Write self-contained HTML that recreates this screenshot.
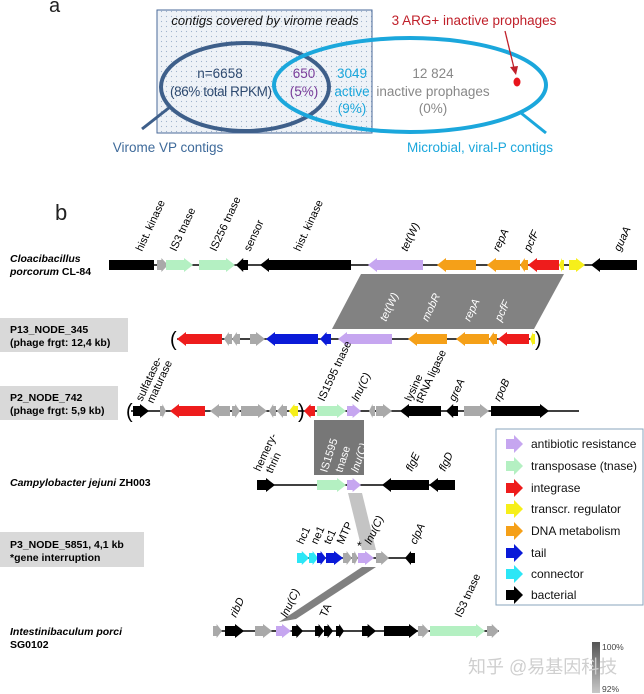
<!DOCTYPE html>
<html><head><meta charset="utf-8"><style>
html,body{margin:0;padding:0;background:#fff;}
svg{display:block;font-family:"Liberation Sans","Noto Sans CJK SC",sans-serif;}
.gl{font-size:11px;fill:#000;}
.gi{font-size:11px;font-style:italic;fill:#000;}
.wl{font-size:11px;fill:#fff;font-style:italic;}
.lb{font-size:10.5px;font-weight:bold;fill:#000;}
.lg{font-size:12px;fill:#111;}
</style></head><body>
<svg id="s" width="644" height="694" viewBox="0 0 644 694" xmlns="http://www.w3.org/2000/svg">
<defs>
<pattern id="dots" width="5" height="5" patternUnits="userSpaceOnUse">
<rect width="5" height="5" fill="#eef2f7"/><circle cx="1.5" cy="1.5" r="0.6" fill="#9fb4cc"/>
</pattern>
<linearGradient id="sc" x1="0" y1="0" x2="0" y2="1"><stop offset="0" stop-color="#555"/><stop offset="1" stop-color="#c8c8c8"/></linearGradient>
</defs>
<!-- panel a -->
<text x="49" y="12" font-size="20" fill="#222">a</text>
<rect x="157" y="10" width="215" height="123" fill="url(#dots)" stroke="#4a6a9a" stroke-width="1"/>
<text x="265" y="25" font-size="13" font-style="italic" fill="#111" text-anchor="middle">contigs covered by virome reads</text>
<ellipse cx="245" cy="87" rx="84" ry="44" fill="none" stroke="#3e5f8a" stroke-width="4"/>
<ellipse cx="410" cy="85" rx="136" ry="47" fill="none" stroke="#1ba7dc" stroke-width="4"/>
<line x1="170" y1="107" x2="142" y2="129" stroke="#3e5f8a" stroke-width="3"/>
<line x1="521" y1="113" x2="546" y2="133" stroke="#1ba7dc" stroke-width="3"/>
<text x="220" y="78" font-size="13.5" fill="#2e4a70" text-anchor="middle">n=6658</text>
<text x="221" y="96" font-size="13.5" fill="#2e4a70" text-anchor="middle" textLength="102">(86% total RPKM)</text>
<text x="304" y="78" font-size="13.5" fill="#7a3d9a" text-anchor="middle">650</text>
<text x="304" y="96" font-size="13.5" fill="#7a3d9a" text-anchor="middle">(5%)</text>
<text x="352" y="78" font-size="13.5" fill="#1ba7dc" text-anchor="middle">3049</text>
<text x="352" y="96" font-size="13.5" fill="#1ba7dc" text-anchor="middle">active</text>
<text x="352" y="113" font-size="13.5" fill="#1ba7dc" text-anchor="middle">(9%)</text>
<text x="433" y="78" font-size="13.5" fill="#888" text-anchor="middle">12 824</text>
<text x="433" y="96" font-size="13.5" fill="#888" text-anchor="middle">inactive prophages</text>
<text x="433" y="113" font-size="13.5" fill="#888" text-anchor="middle">(0%)</text>
<text x="474" y="25" font-size="13.5" fill="#c0202a" text-anchor="middle">3 ARG+ inactive prophages</text>
<line x1="505" y1="31" x2="514" y2="68" stroke="#c0202a" stroke-width="1.3"/>
<polygon points="510,67 518,66 516,75" fill="#c0202a"/>
<ellipse cx="517" cy="82" rx="3.5" ry="4.5" fill="#e8141c"/>
<text x="168" y="152" font-size="13.5" fill="#3e6a9a" text-anchor="middle">Virome VP contigs</text>
<text x="480" y="152" font-size="13.5" fill="#1ba7dc" text-anchor="middle">Microbial, viral-P contigs</text>

<!-- panel b -->
<text x="55" y="220" font-size="22" fill="#222">b</text>
<rect x="0" y="318" width="128" height="34" fill="#d9d9d9"/>
<rect x="0" y="386" width="118" height="34" fill="#d9d9d9"/>
<rect x="0" y="532" width="144" height="35" fill="#d9d9d9"/>
<text class="lb" x="10" y="333">P13_NODE_345</text>
<text class="lb" x="10" y="346">(phage frgt: 12,4 kb)</text>
<text class="lb" x="10" y="401">P2_NODE_742</text>
<text class="lb" x="10" y="414">(phage frgt: 5,9 kb)</text>
<text class="lb" x="10" y="548">P3_NODE_5851, 4,1 kb</text>
<text class="lb" x="10" y="561">*gene interruption</text>
<text class="lb" x="10" y="262"><tspan font-style="italic">Cloacibacillus</tspan></text>
<text class="lb" x="10" y="275"><tspan font-style="italic">porcorum</tspan> CL-84</text>
<text class="lb" x="10" y="486"><tspan font-style="italic">Campylobacter jejuni</tspan> ZH003</text>
<text class="lb" x="10" y="635"><tspan font-style="italic">Intestinibaculum porci</tspan></text>
<text class="lb" x="10" y="648">SG0102</text>

<polygon points="361,274 564,274 534,329 332,329" fill="#828282"/>
<rect x="314" y="420" width="50" height="55" fill="#777"/>
<polygon points="348,493 362,493 376,550 362,550" fill="#c4c4c4"/>
<polygon points="362,567 376,567 296,619 279,622" fill="#808080"/>

<g stroke="#000" stroke-width="1.6">
<line x1="109" y1="265" x2="637" y2="265"/>
<line x1="177" y1="339" x2="535" y2="339"/>
<line x1="131" y1="411" x2="579" y2="411"/>
<line x1="257" y1="485" x2="455" y2="485"/>
<line x1="297" y1="558" x2="415" y2="558"/>
<line x1="213" y1="631" x2="499" y2="631"/>
</g>
<g id="genes"></g>
<g font-size="20" fill="#000">
<text x="170" y="346">(</text><text x="535" y="346">)</text>
<text x="126" y="418">(</text><text x="298" y="418">)</text>
</g>

<g>
<text class="gl" transform="translate(142,252) rotate(-65)">hist. kinase</text>
<text class="gl" transform="translate(176,252) rotate(-65)">IS3 tnase</text>
<text class="gl" transform="translate(216,252) rotate(-65)">IS256 tnase</text>
<text class="gl" transform="translate(250,252) rotate(-65)">sensor</text>
<text class="gl" transform="translate(300,252) rotate(-65)">hist. kinase</text>
<text class="gi" transform="translate(407,252) rotate(-65)">tet(W)</text>
<text class="gi" transform="translate(499,252) rotate(-65)">repA</text>
<text class="gi" transform="translate(530,252) rotate(-65)">pcfF</text>
<text class="gi" transform="translate(620,252) rotate(-65)">guaA</text>
<text class="wl" transform="translate(386,322) rotate(-65)">tet(W)</text>
<text class="wl" transform="translate(428,322) rotate(-65)">mobR</text>
<text class="wl" transform="translate(470,322) rotate(-65)">repA</text>
<text class="wl" transform="translate(501,322) rotate(-65)">pcfF</text>
<text class="gl" transform="translate(142,402) rotate(-65)">sulfatase-</text>
<text class="gl" transform="translate(153,404) rotate(-65)">maturase</text>
<text class="gl" transform="translate(324,402) rotate(-65)">IS1595 tnase</text>
<text class="gi" transform="translate(358,402) rotate(-65)">lnu(C)</text>
<text class="gl" transform="translate(411,402) rotate(-65)">lysine</text>
<text class="gl" transform="translate(422,404) rotate(-65)">tRNA ligase</text>
<text class="gi" transform="translate(455,402) rotate(-65)">greA</text>
<text class="gi" transform="translate(500,402) rotate(-65)">rpoB</text>
<text class="gl" style="fill:#fff" transform="translate(327,473) rotate(-72)">IS1595</text>
<text class="gl" style="fill:#fff" transform="translate(342,473) rotate(-72)">tnase</text>
<text class="wl" transform="translate(358,473) rotate(-72)">lnu(C)</text>
<text class="gl" transform="translate(260,472) rotate(-65)">hemery-</text>
<text class="gl" transform="translate(272,474) rotate(-65)">thrin</text>
<text class="gi" transform="translate(412,472) rotate(-65)">flgE</text>
<text class="gi" transform="translate(445,472) rotate(-65)">flgD</text>
<text class="gl" transform="translate(303,545) rotate(-65)">hc1</text>
<text class="gl" transform="translate(317,545) rotate(-65)">ne1</text>
<text class="gl" transform="translate(330,545) rotate(-65)">tc1</text>
<text class="gl" transform="translate(343,545) rotate(-65)">MTP</text>
<text class="gi" transform="translate(371,545) rotate(-65)">lnu(C)</text>
<text class="gi" transform="translate(416,545) rotate(-65)">clpA</text>
<text x="357" y="550" font-size="12" fill="#000">*</text>
<text class="gi" transform="translate(236,618) rotate(-65)">ribD</text>
<text class="gi" transform="translate(287,618) rotate(-65)">lnu(C)</text>
<text class="gl" transform="translate(326,618) rotate(-65)">TA</text>
<text class="gl" transform="translate(461,618) rotate(-65)">IS3 tnase</text>
</g>

<rect x="496" y="429" width="147" height="176" fill="#fff" stroke="#8aa4bc" stroke-width="1"/>
<g id="leg"></g>
<text class="lg" x="531" y="448">antibiotic resistance</text>
<text class="lg" x="531" y="470">transposase (tnase)</text>
<text class="lg" x="531" y="492">integrase</text>
<text class="lg" x="531" y="513">transcr. regulator</text>
<text class="lg" x="531" y="535">DNA metabolism</text>
<text class="lg" x="531" y="557">tail</text>
<text class="lg" x="531" y="578">connector</text>
<text class="lg" x="531" y="599">bacterial</text>

<rect x="592" y="642" width="8" height="51" fill="url(#sc)"/>
<text x="602" y="650" font-size="8.5" fill="#444">100%</text>
<text x="602" y="692" font-size="8.5" fill="#444">92%</text>
<text x="468" y="673" font-size="18" fill="#cfcfcf">知乎 @易基因科技</text>
</svg>
<script>
var C={k:"#000",g:"#a9a9a9",gr:"#b4f0c2",p:"#c6a6f0",o:"#f5a018",r:"#ee1c1c",y:"#f6ef1a",b:"#0a1ad8",c:"#2ce6f6"};
function arrow(x1,x2,y,d,col,box){
 var L=x2-x1,hl=box?0:Math.min(9,L*0.6),s=5,h=7,p;
 if(d>0){p=[[x1,y-s],[x2-hl,y-s],[x2-hl,y-h],[x2,y],[x2-hl,y+h],[x2-hl,y+s],[x1,y+s]];}
 else{p=[[x2,y-s],[x1+hl,y-s],[x1+hl,y-h],[x1,y],[x1+hl,y+h],[x1+hl,y+s],[x2,y+s]];}
 if(box)p=[[x1,y-s],[x2,y-s],[x2,y+s],[x1,y+s]];
 return '<polygon points="'+p.map(function(q){return q.join(',')}).join(' ')+'" fill="'+C[col]+'"/>';
}
var G=[
[265,[[109,154,1,'k',1],[157,168,1,'g'],[166,193,1,'gr'],[199,235,1,'gr'],[236,248,-1,'k'],[260,351,-1,'k'],[368,423,-1,'p'],[437,476,-1,'o'],[487,520,-1,'o'],[520,528,-1,'o'],[528,559,-1,'r'],[559,564,-1,'y'],[569,585,1,'y'],[591,637,-1,'k']]],
[339,[[177,222,-1,'r'],[224,232,-1,'g'],[232,240,-1,'g'],[250,265,1,'g'],[266,318,-1,'b'],[320,331,-1,'b'],[338,392,-1,'p'],[408,447,-1,'o'],[456,489,-1,'o'],[489,497,-1,'o'],[498,529,-1,'r'],[530,535,-1,'y']]],
[411,[[133,149,1,'k'],[160,166,1,'g'],[170,205,-1,'r'],[210,230,-1,'g'],[232,240,1,'g'],[241,267,1,'g'],[269,276,-1,'g'],[277,287,-1,'g'],[289,298,-1,'y'],[304,315,-1,'r'],[317,346,1,'gr'],[347,361,1,'p'],[369,375,-1,'g'],[376,392,1,'g'],[400,441,-1,'k'],[446,458,-1,'k'],[464,489,1,'g'],[491,549,1,'k']]],
[485,[[257,275,1,'k'],[317,346,1,'gr'],[347,361,1,'p'],[382,429,-1,'k'],[429,455,-1,'k',0]]],
[558,[[297,309,1,'c'],[309,318,1,'c'],[317,326,1,'b'],[326,343,1,'b'],[343,352,1,'g'],[352,358,1,'g'],[358,374,1,'p'],[376,389,1,'g'],[405,415,-1,'k']]],
[631,[[213,222,1,'g'],[225,244,1,'k'],[255,272,1,'g'],[276,291,1,'p'],[292,303,1,'k'],[315,324,1,'k'],[324,333,1,'k'],[336,344,1,'k'],[362,376,1,'k'],[384,418,1,'k'],[418,429,1,'g'],[430,485,1,'gr'],[487,499,1,'g']]]
];
var h='';G.forEach(function(r){r[1].forEach(function(a){h+=arrow(a[0],a[1],r[0],a[2],a[3],a[4]);});});
document.getElementById('genes').innerHTML=h;
var L=[[444,'p'],[466,'gr'],[488,'r'],[509,'y'],[531,'o'],[553,'b'],[574,'c'],[595,'k']],l='';
L.forEach(function(e){var y=e[0],x1=506,x2=523,col=C[e[1]];l+='<polygon points="'+[[x1,y-5],[x2-9,y-5],[x2-9,y-9],[x2,y],[x2-9,y+9],[x2-9,y+5],[x1,y+5]].map(function(q){return q.join(',')}).join(' ')+'" fill="'+col+'"/>';});
document.getElementById('leg').innerHTML=l;
</script>
</body></html>
